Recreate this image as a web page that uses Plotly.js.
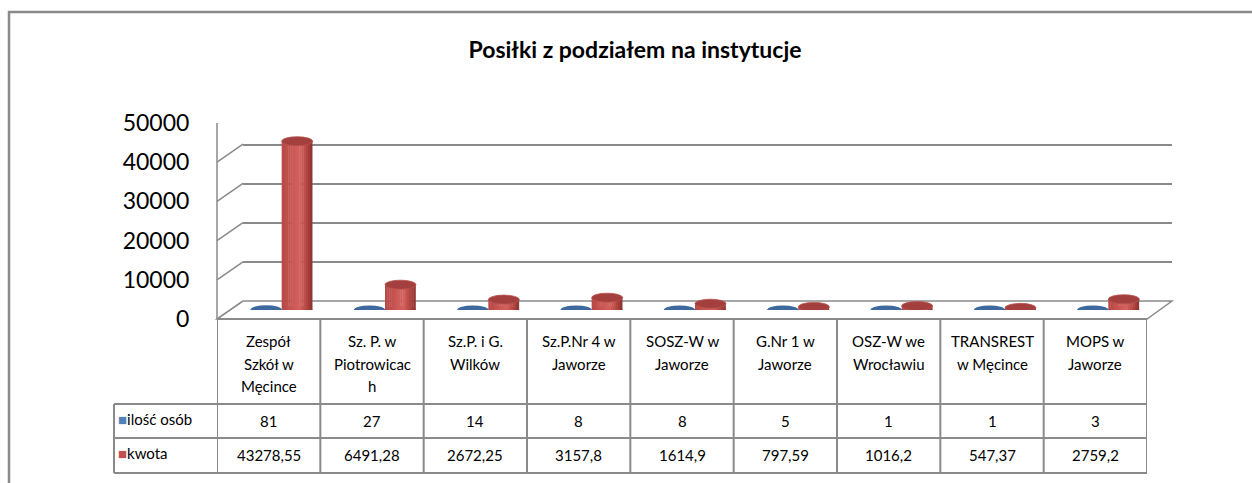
<!DOCTYPE html>
<html>
<head>
<meta charset="utf-8">
<script src="https://cdn.plot.ly/plotly-3.0.1.min.js"></script>
<style>html,body{margin:0;padding:0;background:#fff;}#chart{width:1252px;height:483px;}</style>
</head>
<body>
<div id="chart"></div>
<script>
// ---- data ----
const chartTitle = 'Posiłki z podziałem na instytucje';
const categories = [
  'Zespół<br>Szkół w<br>Męcince',
  'Sz. P. w<br>Piotrowicac<br>h',
  'Sz.P. i G.<br>Wilków',
  'Sz.P.Nr 4 w<br>Jaworze',
  'SOSZ-W w<br>Jaworze',
  'G.Nr 1 w<br>Jaworze',
  'OSZ-W we<br>Wrocławiu',
  'TRANSREST<br>w Męcince',
  'MOPS w<br>Jaworze'
];
const seriesNames = ['ilość osób', 'kwota'];
const iloscOsob = [81, 27, 14, 8, 8, 5, 1, 1, 3];
const kwota = [43278.55, 6491.28, 2672.25, 3157.8, 1614.9, 797.59, 1016.2, 547.37, 2759.2];
const yTicks = [0, 10000, 20000, 30000, 40000, 50000];

// ---- layout helpers ----
const W = 1252, H = 483;
const fx = p => p / W;
const fy = p => 1 - p / H;
const FONT = 'Lato, "Open Sans", sans-serif';
const GRID = '#8a8a8a';
const idx = categories.map((_, i) => i);
const fmt = v => String(v).replace('.', ',');

// geometry (pixels)
const frontL = 217, frontR = 1147, frontBottom = 319, frontTop = 123;
const backL = 243, backR = 1172, backBottom = 301, backTop = 106;
const midL = 230, midR = 1160, midBottom = 310, midTop = 115;
const unitPx = (midR - midL) / categories.length;
const barW = 0.295;
const offs = [-0.30, 0.0];
const colors = ['#4f81bd', '#c0504d'];

// colour gradient helper for cylinder shading (style only)
function hex2rgb(h) { return [1, 3, 5].map(k => parseInt(h.substr(k, 2), 16)); }
function gradColor(stops, t) {
  for (let k = 0; k < stops.length - 1; k++) {
    const [t0, c0] = stops[k], [t1, c1] = stops[k + 1];
    if (t >= t0 && t <= t1) {
      const a = (t - t0) / (t1 - t0), A = hex2rgb(c0), B = hex2rgb(c1);
      return 'rgb(' + A.map((v, j) => Math.round(v + (B[j] - v) * a)).join(',') + ')';
    }
  }
  return stops[stops.length - 1][1];
}
const gradStops = [
  [[0, '#3f6ea6'], [0.55, '#5a8cc8'], [0.85, '#3f6aa0'], [1, '#30527f']],
  [[0, '#b64845'], [0.25, '#c4524f'], [0.6, '#d4625e'], [0.82, '#b3453f'], [1, '#8a3230']]
];
const nStripes = 14;

const traces = [];
const seriesVals = [iloscOsob, kwota];
seriesVals.forEach((vals, s) => {
  for (let k = 0; k < nStripes; k++) {
    const t = (k + 0.5) / nStripes;
    traces.push({
      type: 'bar', x: idx, y: vals, xaxis: 'x3', yaxis: 'y3',
      offset: offs[s] + k * barW / nStripes, width: barW / nStripes * 1.15,
      marker: {color: gradColor(gradStops[s], t), line: {width: 0}},
      name: seriesNames[s], showlegend: false, hoverinfo: 'skip'
    });
  }
});

const shapes = [];
// outer chart border
shapes.push({type: 'rect', xref: 'paper', yref: 'paper', x0: fx(9), x1: 1.2, y0: -0.2, y1: fy(12),
  line: {color: GRID, width: 2.5}, layer: 'below'});
// floor
shapes.push({type: 'path', xref: 'paper', yref: 'paper', layer: 'below',
  path: `M ${fx(frontL)},${fy(frontBottom)} L ${fx(backL)},${fy(backBottom)} L ${fx(backR)},${fy(backBottom)} L ${fx(frontR)},${fy(frontBottom)} Z`,
  fillcolor: '#ffffff', line: {color: GRID, width: 1.5}});
// side wall depth lines at each tick
yTicks.forEach(v => {
  shapes.push({type: 'line', xref: 'paper', yref: 'y', xsizemode: 'pixel', ysizemode: 'pixel',
    xanchor: fx(frontL), yanchor: v, x0: 0, x1: backL - frontL, y0: 0, y1: frontBottom - backBottom,
    line: {color: GRID, width: 1.5}, layer: 'below'});
});
// front-left vertical edge
shapes.push({type: 'line', xref: 'paper', yref: 'y', x0: fx(frontL), x1: fx(frontL), y0: 0, y1: yTicks[yTicks.length - 1],
  line: {color: GRID, width: 1.5}, layer: 'below'});
// ellipses (cylinder bottoms & tops)
seriesVals.forEach((vals, s) => {
  vals.forEach((v, i) => {
    const x0 = offs[s] * unitPx, x1 = (offs[s] + barW) * unitPx + 0.5;
    shapes.push({type: 'circle', xref: 'x3', yref: 'y3', xsizemode: 'pixel', ysizemode: 'pixel',
      xanchor: i, yanchor: 0, x0: x0, x1: x1, y0: -4, y1: 4,
      fillcolor: s === 0 ? '#3d699f' : '#bf504c', line: {width: 0}, layer: 'between'});
    shapes.push({type: 'circle', xref: 'x3', yref: 'y3', xsizemode: 'pixel', ysizemode: 'pixel',
      xanchor: i, yanchor: v, x0: x0, x1: x1, y0: -4.5, y1: 4.5,
      fillcolor: s === 0 ? '#3d699f' : '#a3403d', line: {width: s === 0 ? 0 : 0.8, color: '#b9524e'}, layer: 'above'});
  });
});
// data table lines
const rowLines = [404, 438, 473];
const legendL = 114;
rowLines.forEach(py => {
  shapes.push({type: 'line', xref: 'paper', yref: 'paper', x0: fx(legendL), x1: fx(frontR), y0: fy(py), y1: fy(py),
    line: {color: GRID, width: 2}});
});
shapes.push({type: 'line', xref: 'paper', yref: 'paper', x0: fx(frontL), x1: fx(frontR), y0: fy(frontBottom), y1: fy(frontBottom),
  line: {color: GRID, width: 2}});
idx.concat([categories.length]).forEach(i => {
  shapes.push({type: 'line', xref: 'x', yref: 'paper', x0: i - 0.5, x1: i - 0.5, y0: fy(frontBottom), y1: fy(473),
    line: {color: GRID, width: 2}});
});
shapes.push({type: 'line', xref: 'paper', yref: 'paper', x0: fx(legendL), x1: fx(legendL), y0: fy(404), y1: fy(473),
  line: {color: GRID, width: 2}});

// annotations
const annotations = [];
const catLine0 = 341, catLineStep = 22.5;
categories.forEach((c, i) => {
  c.split('<br>').forEach((line, k) => {
    annotations.push({xref: 'x', yref: 'paper', x: i, y: fy(catLine0 + k * catLineStep), yanchor: 'middle', xanchor: 'center',
      text: line, showarrow: false, align: 'center', font: {family: FONT, size: 15, color: '#000'}});
  });
});
const rowCenters = [421, 455];
seriesVals.forEach((vals, s) => {
  vals.forEach((v, i) => {
    annotations.push({xref: 'x', yref: 'paper', x: i, y: fy(rowCenters[s]), yanchor: 'middle', xanchor: 'center',
      text: fmt(v), showarrow: false, font: {family: FONT, size: 15, color: '#000'}});
  });
  annotations.push({xref: 'paper', yref: 'paper', x: fx(116), y: fy(rowCenters[s] - 2), xanchor: 'left', yanchor: 'middle',
    text: `<span style="color:${colors[s]}">■</span>${seriesNames[s]}`, showarrow: false,
    font: {family: FONT, size: 15, color: '#000'}});
});

const hidden = {showgrid: false, zeroline: false, showline: false, showticklabels: false, ticks: ''};
const layout = {
  width: W, height: H,
  margin: {l: 0, r: 0, t: 0, b: 0},
  paper_bgcolor: '#ffffff', plot_bgcolor: 'rgba(0,0,0,0)',
  showlegend: false, barmode: 'overlay',
  title: {text: chartTitle, x: fx(635), xanchor: 'center', y: fy(50), yanchor: 'middle',
    font: {family: FONT, size: 23, color: '#000', weight: 'bold'}},
  xaxis: Object.assign({domain: [fx(frontL), fx(frontR)], range: [-0.5, categories.length - 0.5], anchor: 'y'}, hidden),
  yaxis: {domain: [fy(frontBottom), fy(frontTop)], range: [0, 50000], anchor: 'x',
    tickvals: yTicks, tickformat: 'd', showgrid: false, zeroline: false, showline: false,
    ticks: 'outside', ticklen: 22, tickcolor: 'rgba(0,0,0,0)',
    tickfont: {family: FONT, size: 23, color: '#000'}},
  xaxis2: Object.assign({domain: [fx(backL), fx(backR)], range: [-0.5, categories.length - 0.5], anchor: 'y2'}, hidden),
  yaxis2: {domain: [fy(backBottom), fy(backTop)], range: [0, 50000], anchor: 'x2',
    tickvals: yTicks, showgrid: true, gridcolor: GRID, gridwidth: 2, zeroline: false, showline: false,
    showticklabels: false, ticks: ''},
  xaxis3: Object.assign({domain: [fx(midL), fx(midR)], range: [-0.5, categories.length - 0.5], anchor: 'y3'}, hidden),
  yaxis3: Object.assign({domain: [fy(midBottom), fy(midTop)], range: [0, 50000], anchor: 'x3'}, hidden),
  shapes: shapes,
  annotations: annotations
};
// dummy traces so subplots 1 and 2 exist
traces.unshift({type: 'scatter', x: [null], y: [null], xaxis: 'x2', yaxis: 'y2', showlegend: false, hoverinfo: 'skip'});
traces.unshift({type: 'scatter', x: [null], y: [null], xaxis: 'x', yaxis: 'y', showlegend: false, hoverinfo: 'skip'});

Plotly.newPlot('chart', traces, layout, {staticPlot: true, displayModeBar: false});
</script>
</body>
</html>
